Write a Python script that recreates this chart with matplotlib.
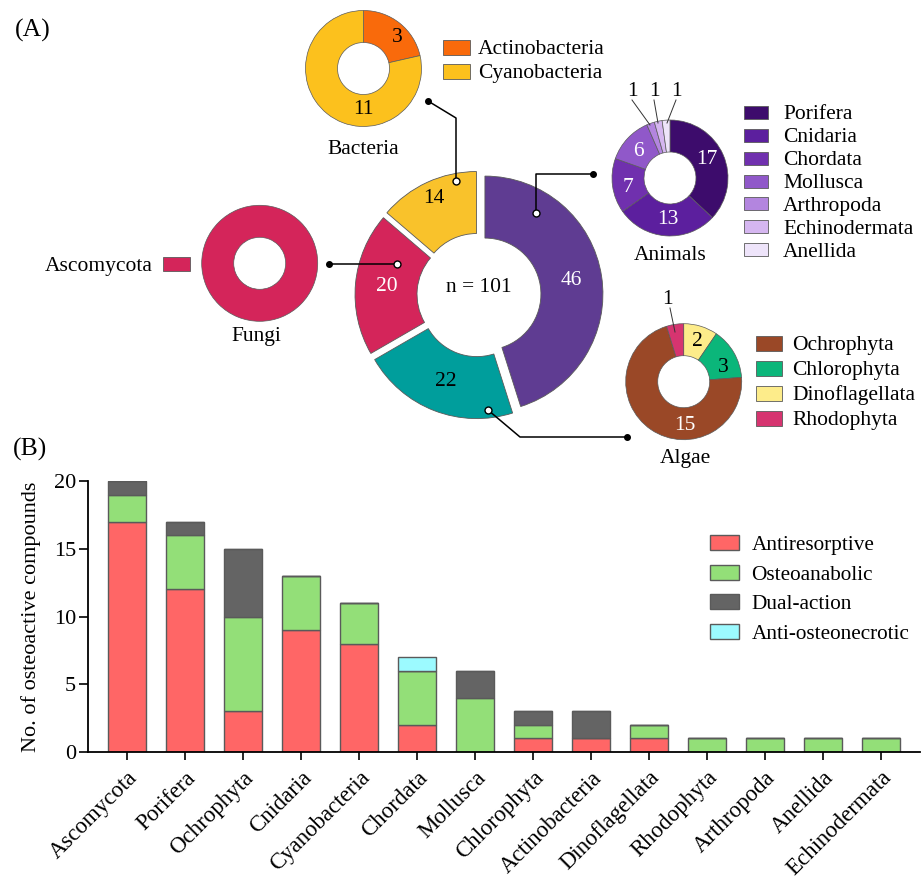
import matplotlib
matplotlib.use('Agg')
import os
import matplotlib.pyplot as plt
from matplotlib import font_manager as fm
from matplotlib.patches import Rectangle
import numpy as np

W, H = 923, 883

# ---- pick a Times-like serif font ----
serif_name = None
prefs = ['liberationserif-regular', 'tinos-regular', 'nimbusroman-regular', 'times', 'dejavuserif.ttf']
files = fm.findSystemFonts()
for p in prefs:
    for f in files:
        if os.path.basename(f).lower().startswith(p):
            try:
                fm.fontManager.addfont(f)
                serif_name = fm.FontProperties(fname=f).get_name()
            except Exception:
                serif_name = None
            if serif_name:
                break
    if serif_name:
        break
if serif_name is None:
    serif_name = 'DejaVu Serif'
plt.rcParams['font.family'] = [serif_name, 'DejaVu Serif']

# ---------------- data ----------------
groups = ['Animals', 'Algae', 'Fungi', 'Bacteria']
group_counts = [46, 22, 20, 14]
group_colors = ['#5F3C92', '#009E9C', '#D4255A', '#F9C22B']
group_label_colors = ['white', 'black', 'white', 'black']

bacteria_names = ['Actinobacteria', 'Cyanobacteria']
bacteria_counts = [3, 11]
bacteria_colors = ['#F96A0B', '#FCC11D']

animal_names = ['Porifera', 'Cnidaria', 'Chordata', 'Mollusca', 'Arthropoda', 'Echinodermata', 'Anellida']
animal_counts = [17, 13, 7, 6, 1, 1, 1]
animal_colors = ['#3D0C6C', '#5C1F9E', '#7030AE', '#9058C9', '#B385DF', '#D5B6F0', '#EEE4FA']

algae_names = ['Dinoflagellata', 'Chlorophyta', 'Ochrophyta', 'Rhodophyta']
algae_counts = [2, 3, 15, 1]
algae_colors = ['#FDEC8A', '#0BB67A', '#9A4827', '#D63470']
algae_legend_order = ['Ochrophyta', 'Chlorophyta', 'Dinoflagellata', 'Rhodophyta']

fungi_names = ['Ascomycota']
fungi_counts = [20]
fungi_colors = ['#D4255A']

bar_categories = ['Ascomycota', 'Porifera', 'Ochrophyta', 'Cnidaria', 'Cyanobacteria', 'Chordata',
                  'Mollusca', 'Chlorophyta', 'Actinobacteria', 'Dinoflagellata', 'Rhodophyta',
                  'Arthropoda', 'Anellida', 'Echinodermata']
antiresorptive = [17, 12, 3, 9, 8, 2, 0, 1, 1, 1, 0, 0, 0, 0]
osteoanabolic = [2, 4, 7, 4, 3, 4, 4, 1, 0, 1, 1, 1, 1, 1]
dual_action = [1, 1, 5, 0, 0, 0, 2, 1, 2, 0, 0, 0, 0, 0]
anti_osteonecrotic = [0, 0, 0, 0, 0, 1, 0, 0, 0, 0, 0, 0, 0, 0]
bar_series = ['Antiresorptive', 'Osteoanabolic', 'Dual-action', 'Anti-osteonecrotic']
bar_colors = ['#FF6666', '#93DF78', '#646464', '#9CFAFF']

FS = 15.5
EDGE = '#5a5a5a'

fig = plt.figure(figsize=(W / 100, H / 100), dpi=100)
ax = fig.add_axes([0, 0, 1, 1])


def Y(y):
    return H - y


def small_donut(counts, colors, cx, cy, r=58, w=32):
    wedges, _ = ax.pie(counts, colors=colors, startangle=90, counterclock=False,
                       radius=r, center=(cx, Y(cy)),
                       wedgeprops=dict(width=w, edgecolor=EDGE, linewidth=0.5))
    return wedges


def legend_block(x, ys, names, colors, w=27, h=14, fs=FS, tx=None):
    for yy, n, c in zip(ys, names, colors):
        ax.add_patch(Rectangle((x, Y(yy) - h / 2), w, h, facecolor=c, edgecolor=EDGE, linewidth=0.6))
        ax.text(x + w + 8 if tx is None else tx, Y(yy), n, fontsize=fs, va='center_baseline', ha='left')


# ---------------- main donut ----------------
MC = (479, 295)
R, WID = 118, 62
mw, _ = ax.pie(group_counts, colors=group_colors, startangle=90, counterclock=False,
               radius=R, center=(MC[0], Y(MC[1])), explode=[6] * 4,
               wedgeprops=dict(width=WID, edgecolor=EDGE, linewidth=0.6))
for i, (w, c) in enumerate(zip(mw, group_label_colors)):
    th = np.deg2rad((w.theta1 + w.theta2) / 2)
    rr = R - WID / 2
    if groups[i] == 'Bacteria':
        rr += 14
        th = np.deg2rad(115)
    cx, cy = w.center
    ax.text(cx + rr * np.cos(th), cy + rr * np.sin(th), str(group_counts[i]), color=c,
            fontsize=FS, ha='center', va='center')
ax.text(MC[0], Y(288), 'n = 101', fontsize=FS, ha='center', va='center')

# ---------------- bacteria ----------------
small_donut(bacteria_counts, bacteria_colors, 363.5, 68.5)
ax.text(397, Y(38), str(bacteria_counts[0]), fontsize=FS, ha='center', va='center')
ax.text(363, Y(110), str(bacteria_counts[1]), fontsize=FS, ha='center', va='center')
ax.text(363, Y(150), 'Bacteria', fontsize=FS, ha='center', va='center')
legend_block(443, [47.5, 71], bacteria_names, bacteria_colors, w=27, h=15)

# ---------------- animals ----------------
small_donut(animal_counts, animal_colors, 670, 178)
for val, (tx, ty) in zip(animal_counts[:4], [(707, 160), (668, 220), (628, 187), (638, 152)]):
    ax.text(tx, Y(ty), str(val), fontsize=FS, ha='center', va='center', color='white')
for val, (tx, ty), (ex, ey) in zip(animal_counts[4:], [(632, 92), (654, 92), (676, 92)],
                                   [(650, 125), (658, 123), (667, 123)]):
    ax.text(tx, Y(ty), str(val), fontsize=FS, ha='center', va='center')
    ax.plot([tx, ex], [Y(ty + 8), Y(ey)], color='#333333', lw=0.7)
ax.text(670, Y(256), 'Animals', fontsize=FS, ha='center', va='center')
legend_block(744, [112.3 + 22.9 * i for i in range(7)], animal_names, animal_colors, w=24, h=13, tx=783)

# ---------------- algae ----------------
small_donut(algae_counts, algae_colors, 683.7, 381.7)
ax.text(697, Y(342), str(algae_counts[0]), fontsize=FS, ha='center', va='center')
ax.text(723, Y(367), str(algae_counts[1]), fontsize=FS, ha='center', va='center')
ax.text(685, Y(425), str(algae_counts[2]), fontsize=FS, ha='center', va='center', color='white')
ax.text(667, Y(299), str(algae_counts[3]), fontsize=FS, ha='center', va='center')
ax.plot([670, 675], [Y(308), Y(332)], color='#333333', lw=0.7)
ax.text(685, Y(458), 'Algae', fontsize=FS, ha='center', va='center')
legend_block(756, [343, 368, 393, 418], algae_legend_order,
             [algae_colors[algae_names.index(n)] for n in algae_legend_order], w=26, h=15, tx=792)

# ---------------- fungi ----------------
small_donut(fungi_counts, fungi_colors, 259.7, 263.3)
ax.text(256, Y(337), 'Fungi', fontsize=FS, ha='center', va='center')
ax.add_patch(Rectangle((163, Y(264) - 7), 27, 14, facecolor=fungi_colors[0], edgecolor=EDGE, linewidth=0.6))
ax.text(153, Y(264), fungi_names[0], fontsize=FS, ha='right', va='center_baseline')

# ---------------- connectors ----------------
def connector(pts):
    xs = [p[0] for p in pts]
    ys = [Y(p[1]) for p in pts]
    ax.plot(xs, ys, color='black', lw=1.1, zorder=5)
    ax.plot(xs[0], ys[0], 'o', ms=4, color='black', zorder=6)
    ax.plot(xs[-1], ys[-1], 'o', ms=5, mfc='white', mec='black', mew=1, zorder=6)

connector([(428, 101), (456, 118), (456, 181)])
connector([(593, 174), (536, 174), (536, 213)])
connector([(329, 264), (397, 264)])
connector([(627, 437), (520, 437), (488, 410)])

ax.text(15, Y(30), '(A)', fontsize=18.5, ha='left', va='center')
ax.text(13, Y(449), '(B)', fontsize=18.5, ha='left', va='center')

ax.set_xlim(0, W)
ax.set_ylim(0, H)
ax.set_aspect('auto')
ax.axis('off')

# ---------------- bar chart ----------------
bax = fig.add_axes([88 / W, 1 - 752 / H, 832 / W, 271 / H])
x = np.arange(len(bar_categories))
bottom = np.zeros(len(x))
for vals, col, lab in zip([antiresorptive, osteoanabolic, dual_action, anti_osteonecrotic], bar_colors, bar_series):
    vals = np.array(vals, dtype=float)
    bax.bar(x, vals, 0.66, bottom=bottom, color=col, edgecolor=EDGE, linewidth=1.0, label=lab)
    bottom += vals
bax.set_xlim(-0.67, 13.67)
bax.set_ylim(0, 20)
bax.set_yticks([0, 5, 10, 15, 20])
bax.set_xticks(x)
bax.set_xticklabels(bar_categories, rotation=45, ha='right', rotation_mode='anchor', fontsize=16.5)
bax.tick_params(axis='y', labelsize=16, length=6.5, width=1.2, direction='out', pad=2)
bax.tick_params(axis='x', length=6, width=1.2, direction='out', pad=5)
for s in ['top', 'right']:
    bax.spines[s].set_visible(False)
for s in ['left', 'bottom']:
    bax.spines[s].set_linewidth(1.3)
bax.set_ylabel('No. of osteoactive compounds', fontsize=16, labelpad=9)
bax.patch.set_alpha(0)
bax.legend(loc='upper left', bbox_to_anchor=(710 / W, 1 - 535 / H), bbox_transform=fig.transFigure,
           frameon=False, fontsize=15.3, handlelength=1.35, handleheight=0.7, handletextpad=0.6,
           labelspacing=0.46, borderpad=0, borderaxespad=0)

fig.savefig('out.png', dpi=100)
